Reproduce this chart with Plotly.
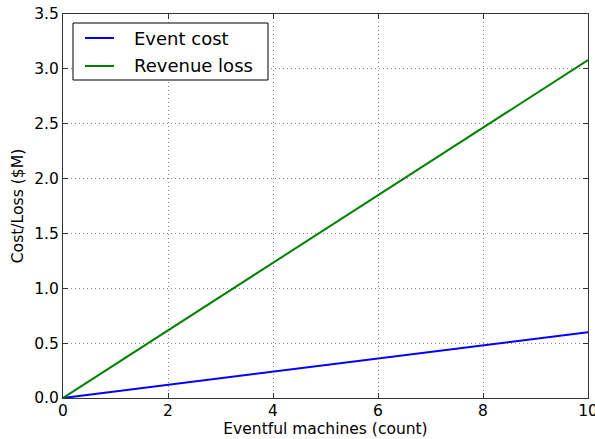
import plotly.graph_objects as go

# Number of eventful machines and the resulting cost/loss ($M)
machines = [0, 10]
event_cost = [0.0, 0.60]
revenue_loss = [0.0, 3.08]

series_names = ["Event cost", "Revenue loss"]
series_colors = ["#0000ff", "#008000"]

x_ticks = [0, 2, 4, 6, 8, 10]
y_ticks = [0.0, 0.5, 1.0, 1.5, 2.0, 2.5, 3.0, 3.5]

W, H = 595, 439
M_L, M_R, M_T, M_B = 63, 7, 14, 41
PW, PH = W - M_L - M_R, H - M_T - M_B


def px_x(p):
    return (p - M_L) / PW


def px_y(p):
    return (H - M_B - p) / PH


fig = go.Figure()
for name, ys, col in zip(series_names, [event_cost, revenue_loss], series_colors):
    fig.add_trace(go.Scatter(x=machines, y=ys, mode="lines", name=name,
                             line=dict(color=col, width=2), showlegend=False))

axis_common = dict(
    showline=True, linecolor="#333333", linewidth=1, mirror="allticks",
    ticks="inside", ticklen=5, tickcolor="#333333",
    showgrid=True, gridcolor="#888888", griddash="1px,3px", gridwidth=1,
    zeroline=False, tickfont=dict(size=15.5, color="black"),
    ticklabeloverflow="allow", automargin=False,
)

fig.update_xaxes(range=[0, 10], tickvals=x_ticks, ticktext=[str(v) for v in x_ticks],
                 ticklabelstandoff=-2,
                 title=dict(text="Eventful machines (count)", font=dict(size=15.5, color="black"), standoff=0),
                 **axis_common)
fig.update_yaxes(range=[0, 3.5], tickvals=y_ticks, ticktext=[f"{v:.1f}" for v in y_ticks],
                 title=dict(text="Cost/Loss ($M)", font=dict(size=15.6, color="black"), standoff=6),
                 **axis_common)

# Legend drawn as a framed box with line samples and labels
shapes = [dict(type="rect", xref="paper", yref="paper",
               x0=px_x(73), x1=px_x(268), y0=px_y(80), y1=px_y(23),
               line=dict(color="black", width=1), fillcolor="white", layer="above")]
annotations = []
for i, (name, col) in enumerate(zip(series_names, series_colors)):
    yy = px_y(38 + 28 * i)
    shapes.append(dict(type="line", xref="paper", yref="paper",
                       x0=px_x(85), x1=px_x(114), y0=yy, y1=yy,
                       line=dict(color=col, width=2), layer="above"))
    annotations.append(dict(xref="paper", yref="paper", x=px_x(132), y=yy,
                            text=name, showarrow=False, xanchor="left", yanchor="middle",
                            font=dict(size=18, color="black")))

fig.update_layout(
    width=W, height=H,
    margin=dict(l=M_L, r=M_R, t=M_T, b=M_B, autoexpand=False),
    paper_bgcolor="white", plot_bgcolor="white",
    font=dict(family="DejaVu Sans", color="black"),
    showlegend=False,
    shapes=shapes, annotations=annotations,
)

fig.write_html("out.html")
